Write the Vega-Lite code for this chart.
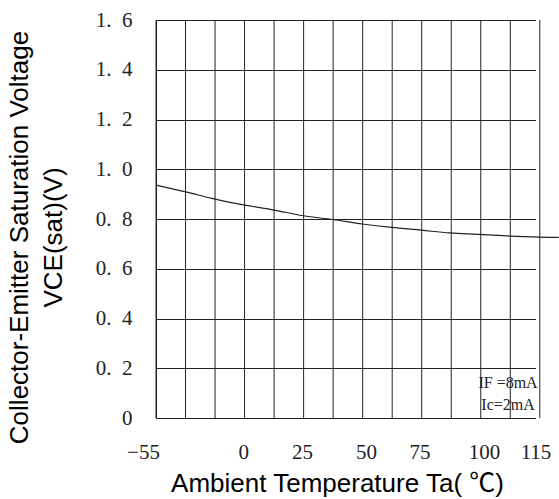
{
  "$schema": "https://vega.github.io/schema/vega-lite/v6.json",
  "autosize": {"type": "none"},
  "padding": {"left": 156, "top": 20, "right": 0, "bottom": 81},
  "width": 403,
  "height": 398,
  "background": "white",
  "config": {"view": {"stroke": null}},
  "datasets": {
    "grid": [{"g": 0}, {"g": 1}, {"g": 2}, {"g": 3}, {"g": 4}, {"g": 5}, {"g": 6}, {"g": 7}, {"g": 8}, {"g": 9}, {"g": 10}, {"g": 11}, {"g": 12}, {"g": 13}],
    "curve": [
      {"temp": -55, "v": 0.936},
      {"temp": -36.4, "v": 0.909},
      {"temp": -17.8, "v": 0.88},
      {"temp": 0.6, "v": 0.856},
      {"temp": 13.1, "v": 0.836},
      {"temp": 25.5, "v": 0.813},
      {"temp": 37.0, "v": 0.798},
      {"temp": 48.6, "v": 0.78},
      {"temp": 62.0, "v": 0.766},
      {"temp": 75.7, "v": 0.755},
      {"temp": 86.7, "v": 0.744},
      {"temp": 98.6, "v": 0.738},
      {"temp": 107.5, "v": 0.731},
      {"temp": 116.1, "v": 0.727},
      {"temp": 121.8, "v": 0.726}
    ],
    "notes": [
      {"temp": 107, "v": 0.142, "label": "IF =8mA"},
      {"temp": 107, "v": 0.053, "label": "Ic=2mA"}
    ]
  },
  "layer": [
    {
      "data": {"name": "grid"},
      "mark": {"type": "rule", "color": "#222", "strokeWidth": 1},
      "encoding": {
        "x": {"field": "g", "type": "quantitative", "scale": {"domain": [0, 13.65], "nice": false, "zero": false}, "axis": null}
      }
    },
    {
      "encoding": {
        "x": {
          "field": "temp",
          "type": "quantitative",
          "scale": {"domain": [-55, 0, 25, 50, 75, 100, 115], "range": [0, 87.3, 146, 210, 263.5, 328, 379.5], "nice": false, "zero": false},
          "axis": {
            "values": [-55, 0, 25, 50, 75, 100, 115],
            "format": "d",
            "grid": false,
            "ticks": false,
            "tickSize": 0,
            "domain": true,
            "domainColor": "#222",
            "domainWidth": 1,
            "labelFont": "Liberation Serif",
            "labelFontSize": 21,
            "labelColor": "#222",
            "labelPadding": 34,
            "labelBaseline": "middle",
            "labelFlush": false,
            "labelOverlap": false,
            "labelOffset": {"condition": {"test": "datum.value === -55", "value": -13}, "value": 0},
            "title": "Ambient Temperature Ta( ℃)",
            "titleFont": "Liberation Sans, Noto Sans CJK SC",
            "titleFontSize": 26,
            "titleFontWeight": "normal",
            "titleColor": "#000",
            "titleX": 181,
            "titleY": 73.7,
            "titleAlign": "center",
            "titleBaseline": "alphabetic"
          }
        },
        "y": {
          "field": "v",
          "type": "quantitative",
          "scale": {"domain": [0, 1.6], "nice": false, "zero": false},
          "axis": {
            "values": [0, 0.2, 0.4, 0.6, 0.8, 1.0, 1.2, 1.4, 1.6],
            "labelExpr": "datum.value == 0 ? '0' : replace(format(datum.value, '.1f'), '.', '.\u2002')",
            "grid": true,
            "gridColor": "#222",
            "gridOpacity": 1,
            "gridWidth": 1,
            "ticks": false,
            "tickSize": 0,
            "domain": true,
            "domainColor": "#222",
            "domainWidth": 1,
            "labelFont": "Liberation Serif",
            "labelFontSize": 21,
            "labelColor": "#222",
            "labelPadding": 24,
            "labelBaseline": "middle",
            "title": ["Collector-Emitter Saturation Voltage", "VCE(sat)(V)"],
            "titleFont": "Liberation Sans",
            "titleFontSize": 26,
            "titleFontWeight": "normal",
            "titleColor": "#000",
            "titleAngle": 270,
            "titleX": -150,
            "titleY": 217,
            "titleAlign": "center",
            "titleBaseline": "top",
            "titleLineHeight": 34
          }
        }
      },
      "layer": [
        {
          "data": {"name": "curve"},
          "mark": {"type": "line", "color": "#222", "strokeWidth": 1.2, "interpolate": "monotone"}
        },
        {
          "data": {"name": "notes"},
          "mark": {"type": "text", "font": "Liberation Serif", "fontSize": 16, "color": "#222", "baseline": "middle", "align": "center"},
          "encoding": {"text": {"field": "label", "type": "nominal"}}
        }
      ]
    }
  ],
  "resolve": {"scale": {"x": "independent"}}
}
